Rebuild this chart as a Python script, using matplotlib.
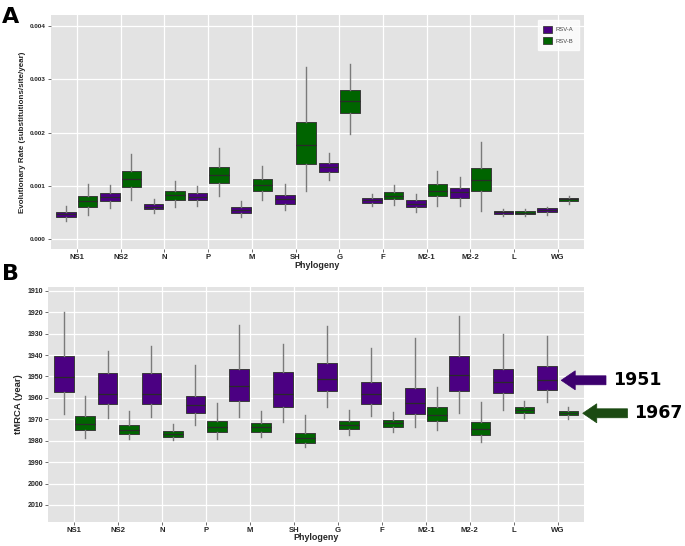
import matplotlib
matplotlib.use("Agg")
import matplotlib.pyplot as plt
from matplotlib.patches import Patch, FancyArrow
import numpy as np

# Categories (x axis, both panels)
GENES = ["NS1", "NS2", "N", "P", "M", "SH", "G", "F", "M2-1", "M2-2", "L", "WG"]
SERIES = ["RSV-A", "RSV-B"]

# Panel A: evolutionary rate, per gene (whisker low, q1, median, q3, whisker high)
RATE_A = [
    (0.00034, 0.00041, 0.00047, 0.00052, 0.00063),
    (0.00059, 0.00071, 0.00079, 0.00086, 0.00101),
    (0.00049, 0.00057, 0.00061, 0.00066, 0.00076),
    (0.00063, 0.00073, 0.00080, 0.00087, 0.00100),
    (0.00041, 0.00049, 0.00054, 0.00060, 0.00071),
    (0.00054, 0.00067, 0.00075, 0.00084, 0.00103),
    (0.00111, 0.00126, 0.00135, 0.00144, 0.00161),
    (0.00062, 0.00068, 0.00073, 0.00077, 0.00085),
    (0.00052, 0.00061, 0.00067, 0.00073, 0.00085),
    (0.00063, 0.00078, 0.00088, 0.00096, 0.00116),
    (0.00044, 0.00048, 0.00051, 0.00053, 0.00056),
    (0.00045, 0.00051, 0.00055, 0.00058, 0.00061),
]
RATE_B = [
    (0.00046, 0.00061, 0.00072, 0.00081, 0.00104),
    (0.00073, 0.00098, 0.00113, 0.00128, 0.00160),
    (0.00061, 0.00074, 0.00083, 0.00091, 0.00110),
    (0.00081, 0.00105, 0.00120, 0.00135, 0.00171),
    (0.00074, 0.00091, 0.00102, 0.00113, 0.00138),
    (0.00090, 0.00141, 0.00177, 0.00220, 0.00323),
    (0.00198, 0.00237, 0.00259, 0.00280, 0.00329),
    (0.00064, 0.00075, 0.00082, 0.00088, 0.00101),
    (0.00063, 0.00081, 0.00091, 0.00103, 0.00128),
    (0.00053, 0.00090, 0.00111, 0.00133, 0.00183),
    (0.00043, 0.00047, 0.00050, 0.00053, 0.00056),
    (0.00067, 0.00072, 0.00075, 0.00078, 0.00082),
]

# Panel B: tMRCA year (earliest whisker, q1, median, q3, latest whisker)
TMRCA_A = [
    (1920.1, 1940.6, 1950.3, 1957.4, 1967.5),
    (1938.0, 1948.6, 1958.4, 1962.9, 1969.6),
    (1935.7, 1948.3, 1958.4, 1963.0, 1968.9),
    (1944.5, 1959.0, 1963.2, 1967.2, 1972.7),
    (1926.2, 1946.5, 1954.6, 1961.3, 1968.9),
    (1934.7, 1948.1, 1958.4, 1964.1, 1971.1),
    (1926.5, 1943.9, 1951.1, 1956.7, 1964.3),
    (1936.7, 1952.6, 1958.4, 1962.9, 1968.6),
    (1931.9, 1955.3, 1962.4, 1967.4, 1973.8),
    (1921.8, 1940.5, 1949.5, 1957.0, 1967.1),
    (1930.1, 1946.4, 1952.6, 1957.9, 1965.5),
    (1931.0, 1945.3, 1951.8, 1956.3, 1961.9),
]
TMRCA_B = [
    (1959.3, 1968.6, 1972.1, 1974.9, 1978.6),
    (1966.1, 1972.7, 1974.9, 1977.0, 1979.0),
    (1972.1, 1975.5, 1976.7, 1978.3, 1979.8),
    (1962.4, 1970.7, 1973.6, 1976.1, 1979.4),
    (1966.1, 1971.9, 1973.8, 1975.9, 1978.4),
    (1968.0, 1976.4, 1978.7, 1980.9, 1982.8),
    (1965.5, 1970.7, 1972.8, 1974.7, 1977.3),
    (1966.5, 1970.2, 1971.9, 1973.5, 1975.8),
    (1954.8, 1964.1, 1967.9, 1970.7, 1975.0),
    (1961.8, 1971.3, 1974.4, 1977.3, 1980.5),
    (1961.3, 1964.3, 1965.5, 1967.2, 1969.3),
    (1964.3, 1966.3, 1967.2, 1968.2, 1969.9),
]

RATE_TICKS = [0.000, 0.001, 0.002, 0.003, 0.004]
YEAR_TICKS = list(range(1910, 2011, 10))

PURPLE = "#4B0082"
GREEN = "#006400"
PANEL_BG = "#E3E3E3"
TXT = "#262626"
FONT = "Liberation Sans"


def stats(rows):
    return [dict(whislo=r[0], q1=r[1], med=r[2], q3=r[3], whishi=r[4], fliers=[])
            for r in rows]


def draw_boxes(ax, rows, offset, color):
    pos = np.arange(len(GENES)) + offset
    ax.bxp(stats(rows), positions=pos, widths=0.45, patch_artist=True,
           showcaps=False, showfliers=False, manage_ticks=False,
           boxprops=dict(facecolor=color, edgecolor="#3a3a3a", linewidth=0.7),
           medianprops=dict(color="#2a2a2a", linewidth=0.9),
           whiskerprops=dict(color="#7a7a7a", linewidth=1.0),
           zorder=3)


def style(ax, yticks, ylabels, ytick_fs, ylabel, ylabel_fs):
    ax.set_facecolor(PANEL_BG)
    for s in ax.spines.values():
        s.set_visible(False)
    ax.set_xlim(-0.6, len(GENES) - 0.4)
    ax.set_xticks(np.arange(len(GENES)))
    ax.set_xticklabels(GENES, fontsize=5.6, fontweight="bold", color=TXT, family=FONT)
    ax.set_yticks(yticks)
    ax.set_yticklabels(ylabels, fontsize=ytick_fs, fontweight="bold", color=TXT,
                       family=FONT)
    ax.grid(True, color="white", linewidth=0.9, zorder=0)
    ax.set_axisbelow(True)
    ax.tick_params(length=2, width=0.6, color="#555555", pad=1.5)
    ax.set_xlabel("Phylogeny", fontsize=6.4, fontweight="bold", color=TXT, family=FONT)
    ax.set_ylabel(ylabel, fontsize=ylabel_fs, fontweight="bold", color=TXT,
                  family=FONT, labelpad=3)
    ax.xaxis.set_label_coords(0.5, -0.05)


fig = plt.figure(figsize=(6.85, 5.46), dpi=100)

# ---- Panel A ---------------------------------------------------------------
axA = fig.add_axes([0.074, 0.5434, 0.7786, 0.4291])
draw_boxes(axA, RATE_A, -0.245, PURPLE)
draw_boxes(axA, RATE_B, 0.245, GREEN)
axA.set_ylim(-0.000188, 0.004207)
style(axA, RATE_TICKS, [f"{t:.3f}" for t in RATE_TICKS], 4.6,
      "Evolutionary Rate (substitutions/site/year)", 5.8)

handles = [Patch(facecolor=PURPLE, edgecolor="#3a3a3a", linewidth=0.6),
           Patch(facecolor=GREEN, edgecolor="#3a3a3a", linewidth=0.6)]
leg = axA.legend(handles, SERIES, loc="upper right", frameon=True, fancybox=False,
                 prop=dict(family=FONT, size=4.2), labelcolor="#444444",
                 handlelength=1.6, handleheight=1.5, handletextpad=0.6,
                 borderpad=0.9, labelspacing=0.8, borderaxespad=0.9)
leg.get_frame().set_facecolor("white")
leg.get_frame().set_edgecolor("white")

# ---- Panel B ---------------------------------------------------------------
axB = fig.add_axes([0.0701, 0.0445, 0.7825, 0.4293])
draw_boxes(axB, TMRCA_A, -0.245, PURPLE)
draw_boxes(axB, TMRCA_B, 0.245, GREEN)
axB.set_ylim(2017.8, 1908.4)
style(axB, YEAR_TICKS, [str(t) for t in YEAR_TICKS], 5.0, "tMRCA (year)", 6.8)

# arrows pointing at the whole-genome medians
last = len(GENES) - 1
for off, row, col, txt in [(-0.245, TMRCA_A[last], "#3C006E", "1951"),
                           (0.245, TMRCA_B[last], "#1B4A12", "1967")]:
    tip = last + off + 0.325
    axB.add_patch(FancyArrow(tip + 1.02, row[2], -1.02, 0, width=4.2,
                             head_width=8.9, head_length=0.32,
                             length_includes_head=True, facecolor=col,
                             edgecolor=col, linewidth=0.5, clip_on=False))
    axB.text(tip + 1.17, row[2], txt, fontsize=12.5, fontweight="bold",
             family="DejaVu Sans", color="black", ha="left", va="center",
             clip_on=False)

fig.text(0.003, 0.987, "A", fontsize=16, fontweight="bold", family="DejaVu Sans",
         ha="left", va="top")
fig.text(0.003, 0.517, "B", fontsize=16, fontweight="bold", family="DejaVu Sans",
         ha="left", va="top")

fig.savefig("out.png", dpi=100)
